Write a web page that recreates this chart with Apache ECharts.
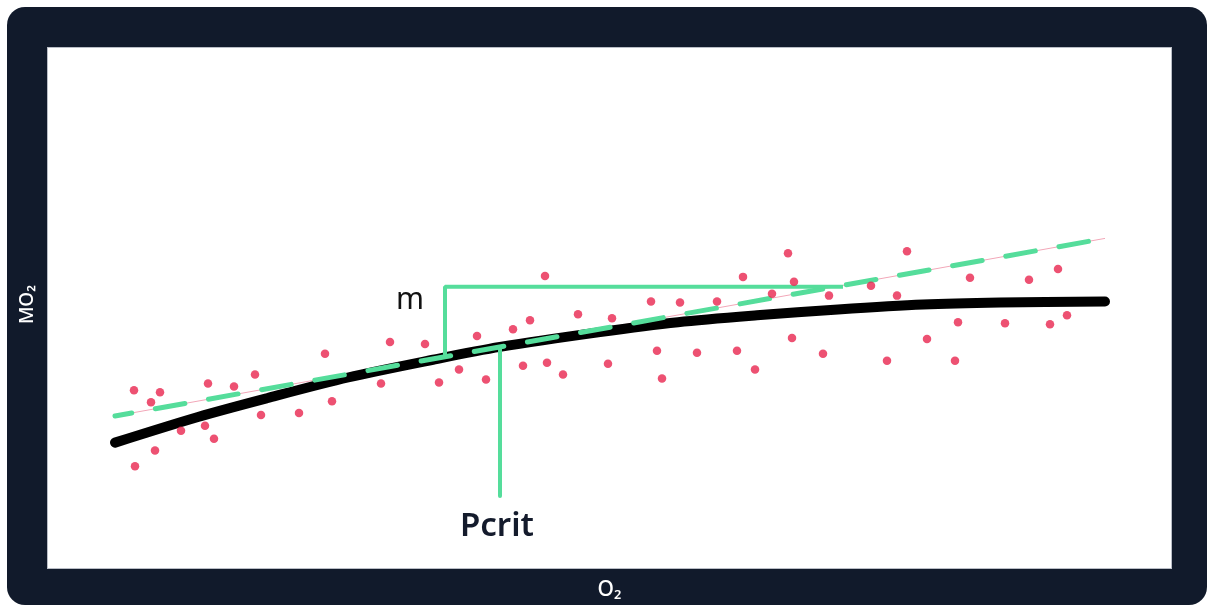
<!DOCTYPE html>
<html>
<head>
<meta charset="utf-8">
<script src="https://cdn.jsdelivr.net/npm/echarts@6/dist/echarts.min.js"></script>
<style>
  html, body { margin: 0; padding: 0; background: #ffffff; }
  #wrap { position: relative; width: 1207px; height: 606px; overflow: hidden; }
  #frame { position: absolute; left: 7px; top: 7px; width: 1200px; height: 598px; background: #111a2b; border-radius: 18px; }
  #inner { position: absolute; left: 48px; top: 48px; width: 1123px; height: 520px; background: #ffffff; box-shadow: 0 0 0 1px #b9bdc6; }
  #chart { position: absolute; left: 0; top: 0; width: 1207px; height: 606px; }
</style>
</head>
<body>
<div id="wrap">
  <div id="frame"></div>
  <div id="inner"></div>
  <div id="chart"></div>
</div>
<script>
const observations = [
  [86,173],[112,171],[103,161],[160,180],[186,177],[207,189],[277,210],[342,222],[377,220],
  [497,289],[530,250],[482,244],[465,235],[429,228],[133,132],[157,137],[166,124],[107,112],
  [87,96],[213,148],[251,150],[284,162],[333,180],[391,181],[411,194],[438,184],[475,198],
  [499,201],[515,189],[564,246],[603,263],[632,262],[669,263],[695,288],[740,312],[746,283],
  [724,271],[781,269],[823,279],[859,314],[849,269],[922,287],[981,285],[1010,296],[1019,249],
  [1002,240],[957,241],[910,242],[879,225],[907,203],[839,203],[775,210],[744,226],[707,194],
  [689,213],[649,211],[614,185],[609,213],[560,200]
];
// Fitted (saturating) curve
const curveFit = [
  [67,120],[150,146],[219,165],[300,186],[385,204],[452,217],[552,232],[630,242],
  [709,249],[790,255],[875,260],[952,262],[1057,263]
];
// Linear fit
const linearFit = [[67,147],[1057,327]];
// Slope annotation (m)
const slopeMarker = [[397,208],[397,278],[795,278]];
// Pcrit annotation
const pcritMarker = [[452,217],[452,66]];
const xRange = [0, 1123];
const yRange = [0, 520];

const chart = echarts.init(document.getElementById('chart'), null, { renderer: 'canvas' });
const font = '"Noto Sans", "Open Sans", sans-serif';
chart.setOption({
  animation: false,
  backgroundColor: 'transparent',
  grid: { left: 48, top: 48, width: 1123, height: 520, containLabel: false },
  xAxis: {
    type: 'value', min: xRange[0], max: xRange[1],
    name: 'O₂', nameLocation: 'middle', nameGap: 19,
    nameTextStyle: { color: '#ffffff', fontSize: 21, fontFamily: font, fontWeight: 500 },
    axisLine: { show: false }, axisTick: { show: false }, axisLabel: { show: false }, splitLine: { show: false }
  },
  yAxis: {
    type: 'value', min: yRange[0], max: yRange[1],
    name: 'MO₂', nameLocation: 'middle', nameGap: 11, nameRotate: 90,
    nameTextStyle: { color: '#ffffff', fontSize: 19, fontFamily: font, fontWeight: 500 },
    axisLine: { show: false }, axisTick: { show: false }, axisLabel: { show: false }, splitLine: { show: false }
  },
  series: [
    {
      type: 'line', data: linearFit, symbol: 'none', z: 2, silent: true,
      lineStyle: { color: '#f2a7b8', width: 1 }
    },
    {
      type: 'line', data: curveFit, symbol: 'none', smooth: 0.3, z: 3, silent: true,
      lineStyle: { color: '#000000', width: 10, cap: 'round', join: 'round' }
    },
    {
      type: 'line', data: linearFit, symbol: 'none', z: 4, silent: true,
      lineStyle: { color: '#55dd9b', width: 5, type: [30, 24], dashOffset: 13, cap: 'round' }
    },
    {
      type: 'line', data: slopeMarker, symbol: 'none', z: 5, silent: true,
      lineStyle: { color: '#55dd9b', width: 4 }
    },
    {
      type: 'line', data: pcritMarker, symbol: 'none', z: 5, silent: true,
      lineStyle: { color: '#55dd9b', width: 4, cap: 'round' }
    },
    {
      type: 'scatter', data: observations, symbol: 'circle', symbolSize: 8.5, z: 6, silent: true,
      itemStyle: { color: '#e8264f' }
    }
  ],
  graphic: [
    { type: 'text', left: 396, top: 285, z: 10,
      style: { text: 'm', fill: '#111111', font: '30px ' + font } },
    { type: 'text', left: 460, top: 510, z: 10,
      style: { text: 'Pcrit', fill: '#141b2c', font: '600 33px ' + font } }
  ]
});
</script>
</body>
</html>
